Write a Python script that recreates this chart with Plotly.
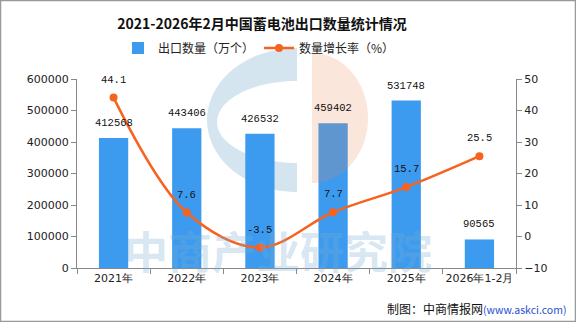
import numpy as np
import plotly.graph_objects as go

categories = ["2021年", "2022年", "2023年", "2024年", "2025年", "2026年1-2月"]
export_qty = [412568, 443406, 426532, 459402, 531748, 90565]
growth = [44.1, 7.6, -3.5, 7.7, 15.7, 25.5]

W, H = 576, 322
L, R, T, B = 77, 60, 79, 54
pw, ph = W - L - R, H - T - B

BAR = "#3d9bef"
LINE = "#f8621f"
FONT = "DejaVu Sans"
MONO = "Liberation Mono"


def px(x):
    return (x - L) / pw


def py(y):
    return (H - B - y) / ph


def path_from(points):
    return "M " + " L ".join(f"{px(x):.4f},{py(y):.4f}" for x, y in points) + " Z"


fig = go.Figure()
fig.add_trace(go.Bar(
    x=categories, y=export_qty, name="出口数量（万个）",
    marker=dict(color=BAR, line=dict(width=0)), width=0.4,
))
fig.add_trace(go.Scatter(
    x=categories, y=growth, name="数量增长率（%）", yaxis="y2",
    mode="lines+markers", line=dict(color=LINE, width=2.5, shape="spline", smoothing=1.0),
    marker=dict(color=LINE, size=8),
))

for c, v in zip(categories, export_qty):
    fig.add_annotation(x=c, y=v, xref="x", yref="y", text=str(v), showarrow=False,
                       yshift=15, yanchor="middle",
                       font=dict(size=10.5, color="#111", family=MONO))
for c, v in zip(categories, growth):
    fig.add_annotation(x=c, y=v, xref="x", yref="y2", text=f"{v}", showarrow=False,
                       yshift=18, yanchor="middle",
                       font=dict(size=10.5, color="#111", family=MONO))

# logo watermark (decorative)
t = np.linspace(np.pi / 2, 3 * np.pi / 2, 60)
outer = [(297 + 90 * np.cos(a), 120 - 72 * np.sin(a)) for a in t]
inner = [(297 + 80 * np.cos(a), 122 - 41 * np.sin(a)) for a in t[::-1]]
blue_pts = outer + [(297, 192), (297, 163)] + inner + [(297, 81), (297, 48)]
fig.add_shape(type="path", xref="paper", yref="paper", path=path_from(blue_pts),
              fillcolor="#d5e5ef", line=dict(width=0), layer="below")
t2 = np.linspace(-np.pi / 2, np.pi / 2, 60)
orange_pts = [(312, 183)] + [(312 + 56 * np.cos(a), 118 - 65 * np.sin(a)) for a in t2] + [(312, 53)]
fig.add_shape(type="path", xref="paper", yref="paper", path=path_from(orange_pts),
              fillcolor="rgba(237,128,82,0.2)", line=dict(width=0), layer="above")

fig.add_annotation(text="<b>中商产业研究院</b>", xref="paper", yref="paper", x=px(278), y=py(250),
                   xanchor="center", yanchor="middle", showarrow=False,
                   font=dict(size=44, color="rgba(120,170,210,0.3)", family="Noto Sans CJK SC"))

# border
fig.add_shape(type="rect", xref="paper", yref="paper",
              x0=px(0.5), x1=px(W - 0.5), y0=py(H - 0.5), y1=py(0.5),
              line=dict(color="#999", width=1.5), fillcolor="rgba(0,0,0,0)", layer="above")

fig.add_annotation(text="制图：中商情报网<span style='color:#1f4fcf;font-size:10.5px'>(www.askci.com)</span>",
                   xref="paper", yref="paper", x=px(568), y=py(308),
                   xanchor="right", yanchor="middle", showarrow=False,
                   font=dict(size=12, color="#111", family="Noto Sans CJK SC"))

fig.update_layout(
    width=W, height=H, margin=dict(l=L, r=R, t=T, b=B, autoexpand=False),
    paper_bgcolor="white", plot_bgcolor="white",
    title=dict(text="<b>2021-2026年2月中国蓄电池出口数量统计情况</b>", x=px(262), xref="paper",
               xanchor="center", y=1 - 24 / H, yanchor="middle",
               font=dict(size=14, color="#111", family="Noto Sans CJK SC")),
    legend=dict(orientation="h", x=px(118), xanchor="left", y=py(48), yanchor="middle",
                font=dict(size=12, color="#222", family="Noto Sans CJK SC"),
                bgcolor="rgba(0,0,0,0)", itemwidth=30),
    showlegend=True,
    xaxis=dict(showline=True, linecolor="#888", linewidth=1, ticks="outside", tickson="boundaries",
               ticklen=5, tickcolor="#888", showgrid=False, tickangle=0, automargin=False,
               tickfont=dict(size=11, color="#222", family=FONT)),
    yaxis=dict(range=[0, 600000], dtick=100000, tickformat="d", showgrid=False, showline=True,
               linecolor="#888", ticks="outside", ticklen=5, tickcolor="#888", zeroline=False,
               automargin=False, tickfont=dict(size=11, color="#222", family=FONT)),
    yaxis2=dict(range=[-10, 50], dtick=10, overlaying="y", side="right", showgrid=False,
                showline=True, linecolor="#888", ticks="outside", ticklen=5, tickcolor="#888",
                zeroline=False, automargin=False, tickfont=dict(size=11, color="#222", family=FONT)),
)

fig.write_html("out.html")
